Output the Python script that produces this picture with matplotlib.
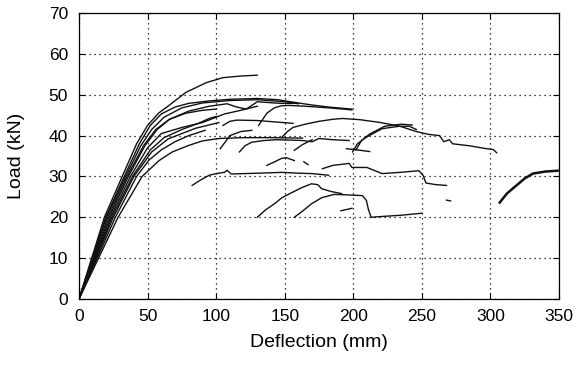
import matplotlib
matplotlib.use("Agg")
import matplotlib.pyplot as plt

plt.rcParams['font.family'] = ['Liberation Sans', 'DejaVu Sans']

# curves that start at the origin (deflection mm, load kN)
c1_x = [0, 18.5, 31.5, 42, 50, 58, 66, 78, 93, 105, 118, 130]
c1_y = [0, 20, 30, 38, 42.5, 45.5, 47.5, 50.6, 53, 54.2, 54.6, 54.8]
c2_x = [0, 19.5, 33, 44, 52, 60, 70, 80, 95, 110, 130, 145, 156, 170, 182, 199]
c2_y = [0, 20, 30, 38, 42.5, 45.3, 47, 47.9, 48.5, 48.9, 49.1, 48.8, 48.2, 47.5, 47, 46.5]
c3_x = [0, 20, 34, 45, 53, 62, 75, 90, 110, 130, 150, 160]
c3_y = [0, 20, 30, 37.5, 41.5, 44.5, 46.8, 48, 48.6, 48.8, 48.3, 47.8]
c4_x = [0, 21, 35, 47, 56, 66, 80, 95, 108, 115, 122, 130, 147, 157]
c4_y = [0, 20, 30, 37.5, 41.5, 44, 46, 47.2, 47.8, 47, 46.5, 48.3, 47.9, 47.9]
c5_x = [0, 22, 36, 48, 57, 66, 78, 90, 100]
c5_y = [0, 20, 30, 37.5, 41.5, 44, 45.5, 46.2, 46.5]
c6_x = [0, 23, 37.5, 50, 60, 75, 90, 106, 118, 130]
c6_y = [0, 20, 30, 37, 40.5, 42, 43.2, 45.3, 46.2, 47.2]
c7_x = [0, 24, 39, 52, 62, 75, 87, 95, 100]
c7_y = [0, 20, 30, 36.5, 39.5, 41.5, 43, 44.2, 44.7]
c8_x = [0, 25, 40, 53, 65, 85, 102]
c8_y = [0, 20, 30, 36, 39.2, 41.8, 43.2]
c9_x = [0, 26.5, 42, 51, 60, 70, 80, 92]
c9_y = [0, 20, 30, 34, 36.5, 38.5, 40, 41.3]
c10_x = [0, 28.5, 46, 58.4, 68, 80, 90, 102, 120, 140, 163]
c10_y = [0, 20, 30, 33.9, 36, 37.6, 38.7, 39.3, 39.5, 39.5, 39.4]

# reloading branches and fragments
f1_x = [131, 137, 142.5, 147.5, 153, 165, 182, 199]
f1_y = [42.5, 45.5, 46.8, 47.3, 47.4, 47.2, 46.8, 46.3]
f2_x = [105, 110, 115, 130, 145, 156]
f2_y = [42.5, 43.5, 43.8, 43.7, 43.3, 43.0]
f3_x = [148, 152, 156, 165, 175, 185, 192, 205, 220, 234, 246, 255, 263, 266,
        270, 272.5, 285, 297, 302, 304.6]
f3_y = [39.6, 41, 42, 42.8, 43.5, 44, 44.2, 43.9, 43.2, 42.3, 41, 40.3, 40,
        38.5, 39, 38, 37.5, 36.8, 36.6, 35.8]
f4_x = [199.5, 203, 209.5, 221, 233.7, 241, 246]
f4_y = [36, 38, 39.6, 41.7, 42.3, 42.3, 41.5]
f5_x = [202, 206, 212, 223, 235, 243]
f5_y = [36.5, 38.8, 40.4, 42.3, 42.8, 42.6]
f6_x = [103, 107, 110, 118, 126]
f6_y = [36.8, 38.6, 40, 41, 41.3]
f7_x = [117, 121, 126, 135, 144, 155, 163, 170, 175, 185, 197]
f7_y = [36, 37.5, 38.4, 38.8, 39, 38.9, 38.8, 38.5, 39.3, 39, 38.8]
f8_x = [157, 163, 170]
f8_y = [36.4, 37.8, 39]
f9_x = [137, 144, 147.5, 151, 157]
f9_y = [32.7, 33.8, 34.4, 34.6, 33.9]
f10_x = [195, 203, 212]
f10_y = [36.8, 36.5, 36.1]
f11_x = [82.5, 88, 95, 100, 106, 108, 111, 120, 131, 148, 160, 170, 182]
f11_y = [27.8, 29, 30.3, 30.7, 31, 31.5, 30.6, 30.7, 30.8, 31, 30.8, 30.7, 30.3]
f12_x = [177.5, 185, 197, 199, 210, 221, 234, 248, 251, 253, 260, 268]
f12_y = [31.9, 32.7, 33.2, 32.2, 32.2, 30.7, 31, 31.4, 30.2, 28.4, 28, 27.8]
f13_x = [130, 136, 142.5, 148, 155, 162, 169.5, 174, 177, 184, 191.5]
f13_y = [20, 21.8, 23.3, 24.8, 26, 27.2, 28.2, 28, 27, 26.3, 25.8]
f14_x = [157, 163, 169.5, 177, 186, 195, 206.7, 209.6, 211, 213, 221, 235, 250]
f14_y = [20, 21.5, 23.3, 24.8, 25.6, 25.5, 25.3, 24.1, 22, 20, 20.2, 20.5, 21]
f15_x = [191, 199]
f15_y = [21.6, 22.2]
f16_x = [268, 271]
f16_y = [24.2, 24.0]
f17_x = [164, 167]
f17_y = [33.6, 32.9]
f18_x = [306.8, 312, 319, 325, 331, 340, 349]
f18_y = [23.6, 25.8, 27.8, 29.5, 30.7, 31.2, 31.4]

origin_curves = [(c1_x, c1_y), (c2_x, c2_y), (c3_x, c3_y), (c4_x, c4_y),
                 (c5_x, c5_y), (c6_x, c6_y), (c7_x, c7_y), (c8_x, c8_y),
                 (c9_x, c9_y), (c10_x, c10_y)]
fragments = [(f1_x, f1_y), (f2_x, f2_y), (f3_x, f3_y), (f4_x, f4_y),
             (f5_x, f5_y), (f6_x, f6_y), (f7_x, f7_y), (f8_x, f8_y),
             (f9_x, f9_y), (f10_x, f10_y), (f11_x, f11_y), (f12_x, f12_y),
             (f13_x, f13_y), (f14_x, f14_y), (f15_x, f15_y), (f16_x, f16_y),
             (f17_x, f17_y)]

fig = plt.figure(figsize=(5.87, 3.65), dpi=100)
ax = fig.add_axes([0.1346, 0.181, 0.8176, 0.783])

for xs, ys in origin_curves:
    ax.plot(xs, ys, color='#111111', lw=1.0)
for xs, ys in fragments:
    ax.plot(xs, ys, color='#111111', lw=1.0)
ax.plot(f18_x, f18_y, color='#111111', lw=1.8)

ax.set_xlim(0, 350)
ax.set_ylim(0, 70)
ax.set_xticks(range(0, 351, 50))
ax.set_yticks(range(0, 71, 10))
ax.grid(True, linestyle=(0, (1, 3)), color='black', lw=0.9)
ax.tick_params(direction='in', top=True, right=True, labelsize=12.5, length=4)
ax.tick_params(axis='x', pad=7)
ax.tick_params(axis='y', pad=8)
for s in ax.spines.values():
    s.set_linewidth(0.9)
ax.set_xlabel('Deflection (mm)', fontsize=14)
ax.set_ylabel('Load (kN)', fontsize=14)
ax.xaxis.set_label_coords(0.5, -0.123)
ax.yaxis.set_label_coords(-0.1125, 0.5)

fig.savefig('out.png', dpi=100)
